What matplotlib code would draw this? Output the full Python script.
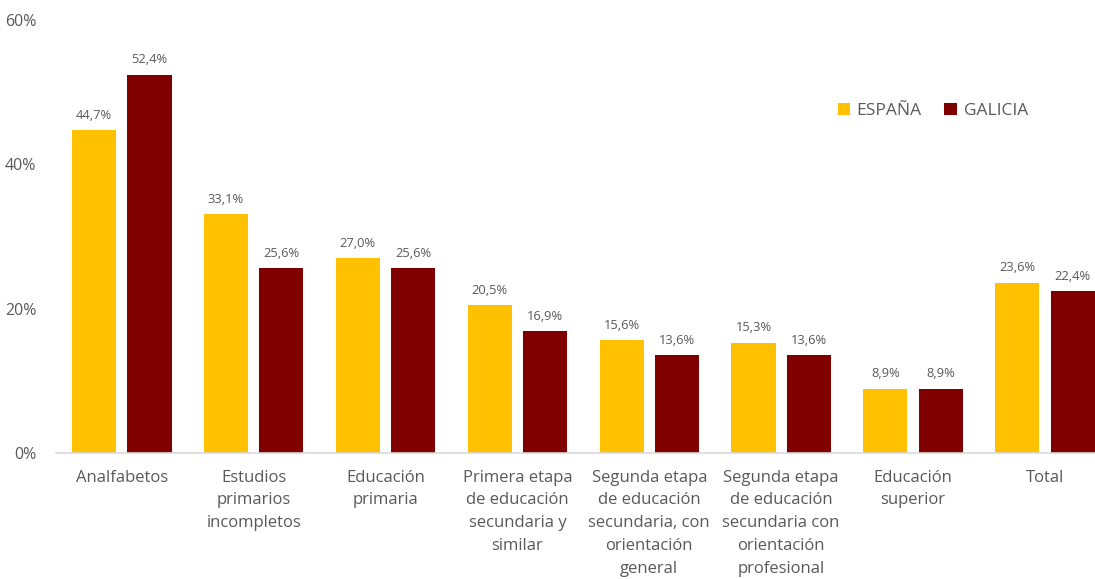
import numpy as np
import matplotlib.pyplot as plt

categories = [
    "Analfabetos",
    "Estudios\nprimarios\nincompletos",
    "Educación\nprimaria",
    "Primera etapa\nde educación\nsecundaria y\nsimilar",
    "Segunda etapa\nde educación\nsecundaria, con\norientación\ngeneral",
    "Segunda etapa\nde educación\nsecundaria con\norientación\nprofesional",
    "Educación\nsuperior",
    "Total",
]
espana = [44.7, 33.1, 27.0, 20.5, 15.6, 15.3, 8.9, 23.6]
galicia = [52.4, 25.6, 25.6, 16.9, 13.6, 13.6, 8.9, 22.4]
yticks = [0, 20, 40, 60]

YELLOW = "#FFC000"
MAROON = "#800000"
GREY = "#595959"

plt.rcParams["font.family"] = ["Open Sans", "DejaVu Sans"]

fig = plt.figure(figsize=(10.95, 5.79), dpi=100)
ax = fig.add_axes([0.051, 0.2176, 0.9635, 0.748])

x = np.arange(len(categories))
w = 0.335
off = 0.21
b1 = ax.bar(x - off, espana, w, color=YELLOW, label="ESPAÑA")
b2 = ax.bar(x + off, galicia, w, color=MAROON, label="GALICIA")

for bars, vals in ((b1, espana), (b2, galicia)):
    for b, v in zip(bars, vals):
        ax.annotate(f"{v:.1f}%".replace(".", ","),
                    (b.get_x() + b.get_width() / 2, v),
                    xytext=(0, 6), textcoords="offset points",
                    ha="center", va="bottom", fontsize=9.3, color=GREY)

ax.set_xlim(-0.5, 7.5)
ax.set_ylim(0, 60)
ax.set_yticks(yticks)
ax.set_yticklabels([f"{t}%" for t in yticks], fontsize=11.5, color=GREY)
ax.set_xticks(x)
ax.set_xticklabels(categories, fontsize=12, color=GREY, linespacing=1.56, va="top")
ax.tick_params(axis="both", length=0)
ax.tick_params(axis="x", pad=12)
ax.tick_params(axis="y", pad=14)

for s in ("top", "right", "left"):
    ax.spines[s].set_visible(False)
ax.spines["bottom"].set_color("#D9D9D9")
ax.spines["bottom"].set_linewidth(1.2)

leg = ax.legend(loc="center left", bbox_to_anchor=(0.741, 0.79), ncol=2, frameon=False,
                fontsize=12.5, handlelength=0.7, handleheight=0.7, handletextpad=0.4,
                columnspacing=1.3, labelcolor=GREY, borderpad=0, borderaxespad=0)

fig.savefig("out.png", dpi=100)
